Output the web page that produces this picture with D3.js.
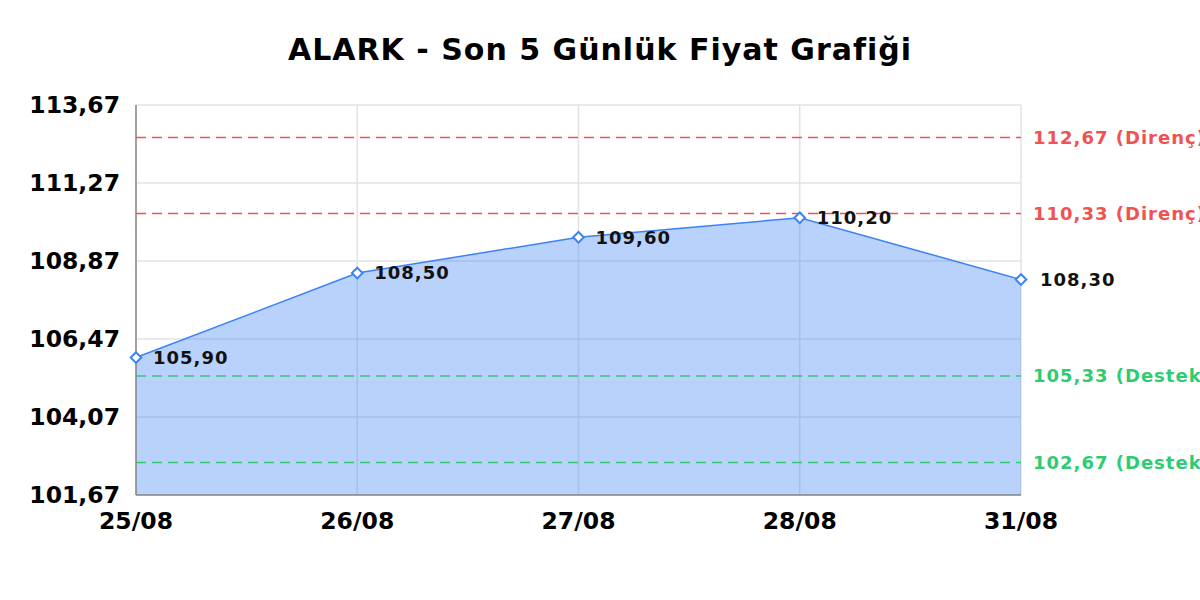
<!DOCTYPE html>
<html>
<head>
<meta charset="utf-8">
<script src="https://cdn.jsdelivr.net/npm/d3@7"></script>
<style>
  body { margin: 0; background: #fff; }
  svg { display: block; font-family: "DejaVu Sans", sans-serif; }
</style>
</head>
<body>
<svg id="chart" width="1200" height="600"></svg>
<script>
// chart data
var dates = ["25/08", "26/08", "27/08", "28/08", "31/08"];
var prices = [105.90, 108.50, 109.60, 110.20, 108.30];
var yTicks = [101.67, 104.07, 106.47, 108.87, 111.27, 113.67];
var resistance = [112.67, 110.33];
var support = [105.33, 102.67];

var fmt = function(v) { return d3.format(".2f")(v).replace(".", ","); };

var svg = d3.select("#chart");
var pLeft = 136, pRight = 1021, pTop = 105, pBottom = 495;

var x = d3.scalePoint().domain(dates).range([pLeft, pRight]);
var y = d3.scaleLinear().domain([101.67, 113.67]).range([pBottom, pTop]);

svg.append("text")
  .attr("x", 600).attr("y", 60)
  .attr("text-anchor", "middle")
  .attr("font-size", 30).attr("font-weight", "bold")
  .attr("letter-spacing", 1)
  .text("ALARK - Son 5 Günlük Fiyat Grafiği");

// grid
svg.append("g").selectAll("line").data(yTicks).enter().append("line")
  .attr("x1", pLeft).attr("x2", pRight)
  .attr("y1", function(d) { return y(d); }).attr("y2", function(d) { return y(d); })
  .attr("stroke", "#e3e3e3").attr("stroke-width", 1.5);
svg.append("g").selectAll("line").data(dates).enter().append("line")
  .attr("x1", function(d) { return x(d); }).attr("x2", function(d) { return x(d); })
  .attr("y1", pTop).attr("y2", pBottom)
  .attr("stroke", "#e3e3e3").attr("stroke-width", 1.5);

var pts = dates.map(function(d, i) { return {d: d, v: prices[i]}; });

var area = d3.area()
  .x(function(p) { return x(p.d); })
  .y0(pBottom)
  .y1(function(p) { return y(p.v); });
svg.append("path").datum(pts)
  .attr("d", area)
  .attr("fill", "rgba(59,130,246,0.36)");

// reference lines
function refLine(v, col, tag) {
  svg.append("line")
    .attr("x1", pLeft).attr("x2", pRight)
    .attr("y1", y(v)).attr("y2", y(v))
    .attr("stroke", col).attr("stroke-width", 1.5)
    .attr("stroke-dasharray", "10,6");
  svg.append("text")
    .attr("x", 1033).attr("y", y(v))
    .attr("dy", "0.35em")
    .attr("fill", col)
    .attr("font-size", 18).attr("font-weight", "bold")
    .attr("letter-spacing", 1)
    .text(fmt(v) + " (" + tag + ")");
}
resistance.forEach(function(v) { refLine(v, "#f05252", "Direnç"); });
support.forEach(function(v) { refLine(v, "#2ecc71", "Destek"); });

var line = d3.line()
  .x(function(p) { return x(p.d); })
  .y(function(p) { return y(p.v); });
svg.append("path").datum(pts)
  .attr("d", line)
  .attr("fill", "none")
  .attr("stroke", "#3b82f6").attr("stroke-width", 1.5);

// axes lines
svg.append("line").attr("x1", pLeft).attr("x2", pLeft).attr("y1", pTop).attr("y2", pBottom)
  .attr("stroke", "#888").attr("stroke-width", 1.5);
svg.append("line").attr("x1", pLeft).attr("x2", pRight).attr("y1", pBottom).attr("y2", pBottom)
  .attr("stroke", "#888").attr("stroke-width", 1.5);

// points
svg.append("g").selectAll("path").data(pts).enter().append("path")
  .attr("d", d3.symbol().type(d3.symbolDiamond2).size(72))
  .attr("transform", function(p) { return "translate(" + x(p.d) + "," + y(p.v) + ")"; })
  .attr("fill", "#fff").attr("stroke", "#3b82f6").attr("stroke-width", 2);

svg.append("g").selectAll("text").data(pts).enter().append("text")
  .attr("x", function(p, i) { return x(p.d) + (i === pts.length - 1 ? 19 : 17); })
  .attr("y", function(p) { return y(p.v); })
  .attr("dy", "0.35em")
  .attr("font-size", 18).attr("font-weight", "bold")
  .attr("letter-spacing", 1)
  .attr("fill", "#111")
  .text(function(p) { return fmt(p.v); });

// tick labels
svg.append("g").selectAll("text").data(yTicks).enter().append("text")
  .attr("x", 120).attr("y", function(d) { return y(d); })
  .attr("dy", "0.35em")
  .attr("text-anchor", "end")
  .attr("font-size", 23.5).attr("font-weight", "bold")
  .text(fmt);

svg.append("g").selectAll("text").data(dates).enter().append("text")
  .attr("x", function(d) { return x(d); }).attr("y", 529)
  .attr("text-anchor", "middle")
  .attr("font-size", 23.5).attr("font-weight", "bold")
  .text(function(d) { return d; });
</script>
</body>
</html>
